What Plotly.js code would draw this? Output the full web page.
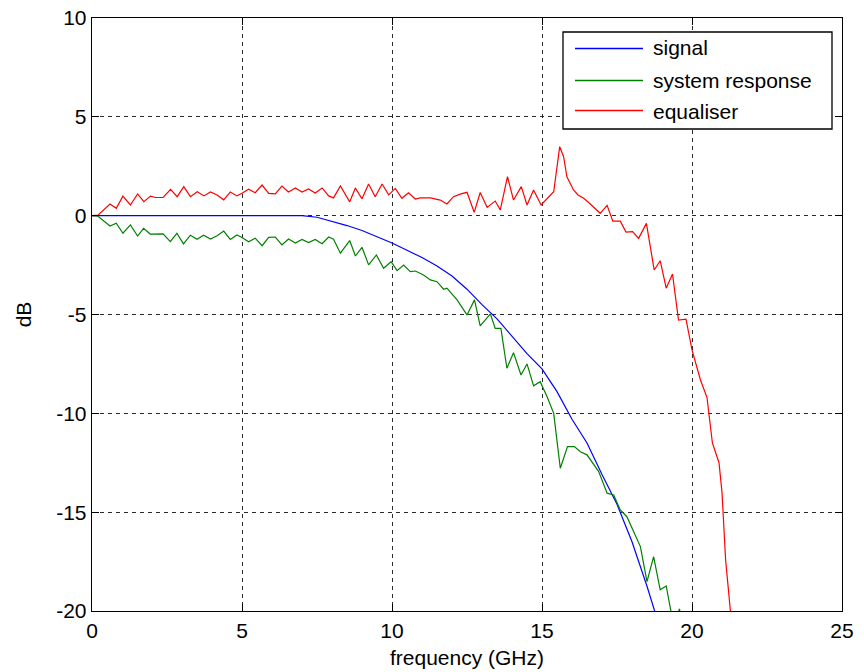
<!DOCTYPE html>
<html>
<head>
<meta charset="utf-8">
<script src="https://cdn.plot.ly/plotly-3.0.1.min.js"></script>
<style>html,body{margin:0;padding:0;background:#fff;}#chart{width:864px;height:672px;}</style>
</head>
<body>
<div id="chart"></div>
<script>
// ---- data ----
const seriesNames = ["signal", "system response", "equaliser"];
const seriesColors = ["#0000ff", "#008000", "#ff0000"];

const signalFreq = [0, 7.0, 7.5, 8.0, 8.5, 9.0, 9.5, 10.0, 10.5, 11.0, 11.5, 12.0, 12.5, 13.0, 13.5, 14.0, 14.5, 15.0, 15.5, 16.0, 16.5, 17.0, 17.5, 18.0, 18.5, 19.0];
const signalDb = [0, 0, -0.08, -0.28, -0.5, -0.75, -1.05, -1.38, -1.75, -2.12, -2.55, -3.05, -3.72, -4.5, -5.22, -6.1, -6.98, -7.75, -8.9, -10.3, -11.5, -13.1, -14.6, -16.5, -18.75, -21.2];

const systemFreq = [0, 0.2, 0.6, 0.81, 1.03, 1.28, 1.52, 1.72, 1.94, 2.12, 2.37, 2.61, 2.83, 3.05, 3.28, 3.5, 3.72, 3.95, 4.17, 4.39, 4.61, 4.83, 5.0, 5.22, 5.44, 5.67, 5.89, 6.11, 6.33, 6.55, 6.78, 7.0, 7.22, 7.44, 7.67, 7.89, 8.05, 8.28, 8.59, 8.78, 9.0, 9.22, 9.48, 9.72, 9.97, 10.17, 10.39, 10.61, 10.78, 11.05, 11.28, 11.5, 11.72, 11.83, 12.17, 12.5, 12.75, 12.94, 13.28, 13.44, 13.63, 13.83, 14.05, 14.3, 14.5, 14.72, 14.94, 15.17, 15.39, 15.61, 15.85, 16.08, 16.28, 16.5, 16.89, 17.17, 17.39, 17.61, 17.83, 18.28, 18.5, 18.72, 18.94, 19.14, 19.3, 19.45, 19.58, 19.7];
const systemDb = [0, -0.03, -0.52, -0.38, -0.89, -0.47, -1.03, -0.64, -0.93, -0.92, -0.92, -1.31, -0.89, -1.43, -0.99, -1.19, -0.99, -1.18, -1.02, -0.78, -1.2, -0.98, -1.1, -1.32, -1.14, -1.52, -1.1, -1.08, -1.48, -1.18, -1.38, -1.2, -1.36, -1.2, -1.42, -1.08, -1.19, -1.9, -1.26, -2.04, -1.6, -2.49, -1.99, -2.66, -2.33, -2.78, -2.5, -2.83, -2.8, -3.0, -3.25, -3.34, -3.72, -3.67, -4.26, -5.02, -4.26, -5.58, -4.97, -5.7, -5.7, -7.72, -6.93, -8.06, -7.5, -8.61, -8.4, -9.16, -10.0, -12.78, -11.68, -11.68, -11.94, -12.1, -12.95, -14.04, -14.13, -14.89, -15.23, -16.74, -18.51, -17.25, -18.93, -18.73, -20.03, -20.6, -19.9, -20.6];

const equaliserFreq = [0, 0.2, 0.6, 0.81, 1.03, 1.28, 1.52, 1.73, 1.95, 2.12, 2.37, 2.62, 2.84, 3.06, 3.28, 3.51, 3.73, 3.95, 4.17, 4.39, 4.61, 4.83, 5.0, 5.22, 5.44, 5.67, 5.89, 6.11, 6.33, 6.55, 6.78, 7.0, 7.22, 7.44, 7.67, 7.89, 8.05, 8.28, 8.59, 8.78, 9.0, 9.22, 9.44, 9.67, 9.89, 10.11, 10.33, 10.55, 10.78, 10.94, 11.28, 11.61, 11.83, 12.05, 12.3, 12.5, 12.74, 12.94, 13.17, 13.44, 13.61, 13.85, 14.05, 14.31, 14.5, 14.72, 14.97, 15.2, 15.39, 15.59, 15.72, 15.83, 16.05, 16.2, 16.39, 16.61, 16.94, 17.17, 17.36, 17.61, 17.8, 18.02, 18.22, 18.48, 18.61, 18.74, 18.94, 19.14, 19.35, 19.55, 19.8, 20.0, 20.28, 20.5, 20.68, 20.9, 21.0, 21.12, 21.28, 21.4];
const equaliserDb = [0, 0.03, 0.59, 0.37, 0.99, 0.54, 1.1, 0.71, 0.99, 0.92, 0.92, 1.33, 0.96, 1.47, 0.96, 1.21, 1.0, 1.2, 1.05, 0.8, 1.2, 1.0, 1.13, 1.34, 1.16, 1.55, 1.13, 1.1, 1.5, 1.2, 1.4, 1.2, 1.35, 1.15, 1.4, 1.0, 0.9, 1.5, 0.7, 1.4, 0.85, 1.6, 0.96, 1.6, 1.05, 1.38, 0.88, 1.16, 0.84, 0.9, 0.9, 0.79, 0.59, 0.96, 1.1, 1.18, 0.17, 1.17, 0.42, 0.74, 0.29, 1.97, 0.79, 1.47, 0.54, 1.3, 0.54, 0.9, 1.21, 3.49, 2.98, 1.97, 1.3, 1.05, 0.88, 0.59, 0.12, 0.52, -0.28, -0.28, -0.83, -0.81, -1.15, -0.39, -1.57, -2.75, -2.28, -3.67, -2.95, -5.28, -5.24, -6.79, -8.3, -9.2, -11.5, -12.5, -14.0, -17.4, -20.0, -21.0];

const xTickVals = [0, 5, 10, 15, 20, 25];
const yTickVals = [-20, -15, -10, -5, 0, 5, 10];
const xTitle = "frequency (GHz)";
const yTitle = "dB";

// ---- chart ----
const FONT = "Liberation Sans, Arial, Helvetica, sans-serif";
const xs = [signalFreq, systemFreq, equaliserFreq];
const ys = [signalDb, systemDb, equaliserDb];
const traces = seriesNames.map((n, i) => ({
  type: "scatter", mode: "lines", name: n,
  x: xs[i], y: ys[i],
  line: {color: seriesColors[i], width: 1.2},
  showlegend: false, hoverinfo: "skip"
}));

// plot area in pixels: left 92, right 842, top 18, bottom 611
const PL = 92, PR = 842, PT = 18, PB = 611;
const px = v => (v - PL) / (PR - PL);
const py = v => (PB - v) / (PB - PT);

const shapes = [{
  type: "rect", xref: "paper", yref: "paper",
  x0: px(563), x1: px(832), y0: py(129), y1: py(32),
  line: {color: "#000", width: 1.3}, fillcolor: "#fff", layer: "above"
}];
const annotations = [];
const lineY = [48.5, 80.5, 110.5];
const textY = [47, 80, 111];
seriesNames.forEach((n, i) => {
  shapes.push({
    type: "line", xref: "paper", yref: "paper",
    x0: px(575), x1: px(643), y0: py(lineY[i]), y1: py(lineY[i]),
    line: {color: seriesColors[i], width: 1.4}, layer: "above"
  });
  annotations.push({
    xref: "paper", yref: "paper", x: px(651), y: py(textY[i]),
    xanchor: "left", yanchor: "middle", showarrow: false,
    text: n, font: {family: FONT, size: 21, color: "#000"}
  });
});

const axisCommon = {
  ticks: "inside", ticklen: 7, tickwidth: 1, tickcolor: "#000",
  showline: true, linecolor: "#000", linewidth: 1.3, mirror: "ticks",
  showgrid: true, gridcolor: "#2a2a2a", gridwidth: 1, griddash: "4px,4px",
  zeroline: false, tickfont: {family: FONT, size: 21, color: "#000"}
};

const layout = {
  width: 864, height: 672,
  margin: {l: PL, r: 864 - PR, t: PT, b: 672 - PB, pad: 0},
  paper_bgcolor: "#fff", plot_bgcolor: "#fff",
  font: {family: FONT, size: 21, color: "#000"},
  xaxis: Object.assign({}, axisCommon, {
    range: [0, 25], tickmode: "array", tickvals: xTickVals,
    ticktext: xTickVals.map(String),
    title: {text: xTitle, font: {family: FONT, size: 21, color: "#000"}, standoff: 9}
  }),
  yaxis: Object.assign({}, axisCommon, {
    range: [-20, 10], tickmode: "array", tickvals: yTickVals,
    ticktext: yTickVals.map(String),
    title: {text: yTitle, font: {family: FONT, size: 21, color: "#000"}, standoff: 18}
  }),
  shapes: shapes, annotations: annotations, showlegend: false
};

Plotly.newPlot("chart", traces, layout, {staticPlot: true, displayModeBar: false});
</script>
</body>
</html>
